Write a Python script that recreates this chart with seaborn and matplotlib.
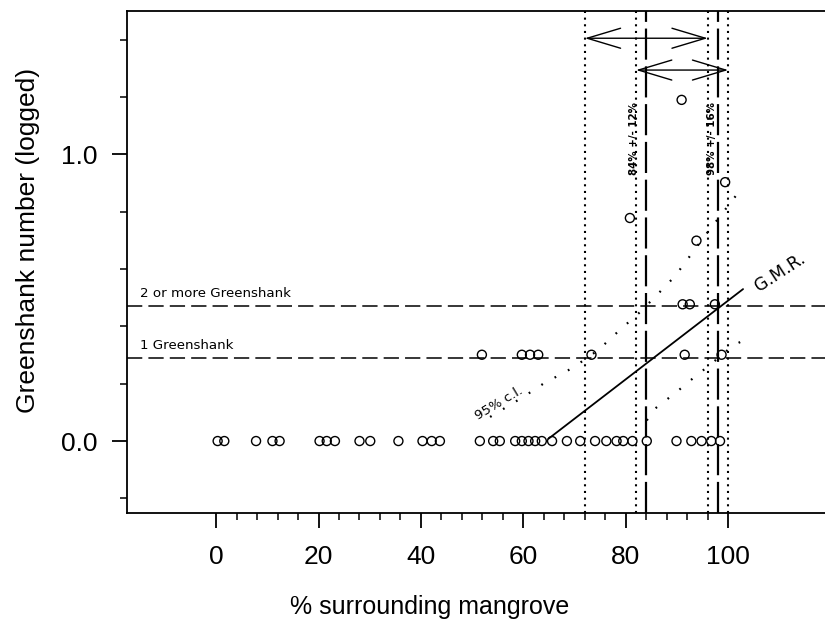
import matplotlib
matplotlib.use("Agg")
import matplotlib.pyplot as plt
import numpy as np
import pandas as pd
import seaborn as sns

# % surrounding mangrove at each site, grouped by greenshank count
mangrove_none = [0.3, 1.6, 7.8, 11.0, 12.4, 20.2, 21.6, 23.2, 28.0, 30.1, 35.6,
                 40.3, 42.1, 43.7, 51.5, 54.1, 55.4, 58.4, 59.7, 61.0, 62.3, 63.6,
                 65.6, 68.5, 71.1, 74.0, 76.2, 78.2, 79.5, 81.3, 84.1, 89.9, 92.8,
                 94.8, 96.7, 98.4]
mangrove_one = [51.9, 59.7, 61.3, 62.9, 73.3, 91.5, 98.7]
mangrove_two = [91.1, 92.5, 97.4]
mangrove_more = [80.8, 93.8, 99.4, 90.9]
logged_more = [0.778, 0.699, 0.903, 1.19]

logged_none = 0.0
logged_one = 0.301
logged_two = 0.477

# reference levels for 1 and for 2+ birds
threshold_levels = [0.29, 0.472]
threshold_labels = ["1 Greenshank", "2 or more Greenshank"]

# geometric mean regression and its 95% confidence band
gmr_x = [64.9, 102.9]
gmr_y = [0.008, 0.53]
ci_upper_x = [53.5, 60.0, 63.9, 69.7, 74.6, 78.8, 82.8, 87.3, 89.6, 95.8, 102.6]
ci_upper_y = [0.084, 0.154, 0.200, 0.256, 0.317, 0.387, 0.450, 0.532, 0.575, 0.724, 0.881]
ci_lower_x = [84.1, 85.7, 89.9, 93.8, 96.2, 101.0, 102.9]
ci_lower_y = [0.072, 0.113, 0.171, 0.229, 0.262, 0.334, 0.350]

# predicted mangrove cover (%) for 1 and 2+ greenshank, with error margins
estimates = [84, 98]
margins = [12, 16]

x_major = [0, 20, 40, 60, 80, 100]
y_major = [0.0, 1.0]

sites = pd.DataFrame({
    "mangrove": mangrove_none + mangrove_one + mangrove_two + mangrove_more,
    "logged": [logged_none] * len(mangrove_none) + [logged_one] * len(mangrove_one)
              + [logged_two] * len(mangrove_two) + logged_more,
})

sns.set_style("ticks")
plt.rcParams["font.family"] = ["Liberation Sans", "DejaVu Sans"]
plt.rcParams["text.color"] = "black"
plt.rcParams["axes.labelcolor"] = "black"

fig = plt.figure(figsize=(8.25, 6.23), dpi=100)
ax = fig.add_axes([127 / 825, 110 / 623, 1 - 127 / 825, 502 / 623])

sns.scatterplot(data=sites, x="mangrove", y="logged", ax=ax, marker="o", s=42,
                facecolor="none", edgecolor="black", linewidth=1.0, zorder=3,
                legend=False)

# threshold lines with their captions
for level, text in zip(threshold_levels, threshold_labels):
    ax.axhline(level, color="black", lw=1.1, ls=(0, (10, 4)), zorder=1)
    ax.text(-14.8, level + 0.02, text, fontsize=9.6, family="DejaVu Sans",
            ha="left", va="bottom")

# estimate (dashed) and margin limits (dotted)
arrow_levels = [1.405, 1.294]
text_x = [81.7, 96.8]
for est, m, yl, tx in zip(estimates, margins, arrow_levels, text_x):
    lo, hi = est - m, min(est + m, 100)
    ax.axvline(est, color="black", lw=1.6, ls=(0, (14, 3)), zorder=1)
    for v in (lo, hi):
        ax.axvline(v, color="black", lw=1.5, ls=(0, (1, 2.2)), zorder=1)
    ax.annotate("", xy=(hi, yl), xytext=(lo, yl),
                arrowprops=dict(arrowstyle="<->,head_length=1.2,head_width=0.36",
                                lw=1.0, color="black", shrinkA=0, shrinkB=0,
                                mutation_scale=20))
    ax.text(tx, 1.055, f"{est}% +/- {m}%", rotation=90, fontsize=7.4,
            fontweight="bold", family="DejaVu Sans", ha="center", va="center")

sns.lineplot(x=gmr_x, y=gmr_y, ax=ax, color="black", lw=1.3, zorder=2)
sns.lineplot(x=ci_upper_x, y=ci_upper_y, ax=ax, color="black", lw=1.6,
             ls=(0, (0.8, 6)), zorder=2)
sns.lineplot(x=ci_lower_x, y=ci_lower_y, ax=ax, color="black", lw=1.6,
             ls=(0, (0.8, 6)), zorder=2)

ax.text(55.3, 0.13, "95% c.l.", rotation=31, fontsize=9.5, family="DejaVu Sans",
        ha="center", va="center")
ax.text(110.2, 0.59, "G.M.R.", rotation=33, fontsize=12.5, family="DejaVu Sans",
        ha="center", va="center")

ax.set_xlim(-17.4, 118.9)
ax.set_ylim(-0.251, 1.50)
ax.set_xticks(x_major)
ax.set_xticks([v for v in range(4, 100, 4) if v % 20], minor=True)
ax.set_yticks(y_major)
ax.set_yticks([-0.2, 0.2, 0.4, 0.6, 0.8, 1.2, 1.4], minor=True)
ax.set_yticklabels([f"{v:.1f}" for v in y_major])
ax.tick_params(which="major", length=11, width=1.3, labelsize=19,
               color="black", labelcolor="black")
ax.tick_params(axis="x", which="major", pad=12)
ax.tick_params(axis="y", which="major", pad=10.5)
ax.tick_params(which="minor", length=5, width=1.1, color="black")
for side in ("left", "bottom", "top"):
    ax.spines[side].set_linewidth(1.3)
    ax.spines[side].set_color("black")
ax.spines["right"].set_visible(False)

ax.set_xlabel("% surrounding mangrove", fontsize=18)
ax.set_ylabel("Greenshank number (logged)", fontsize=19)
ax.xaxis.set_label_coords(0.434, -0.163)
ax.yaxis.set_label_coords(-0.124, 0.542)

fig.savefig("out.png", dpi=100)
